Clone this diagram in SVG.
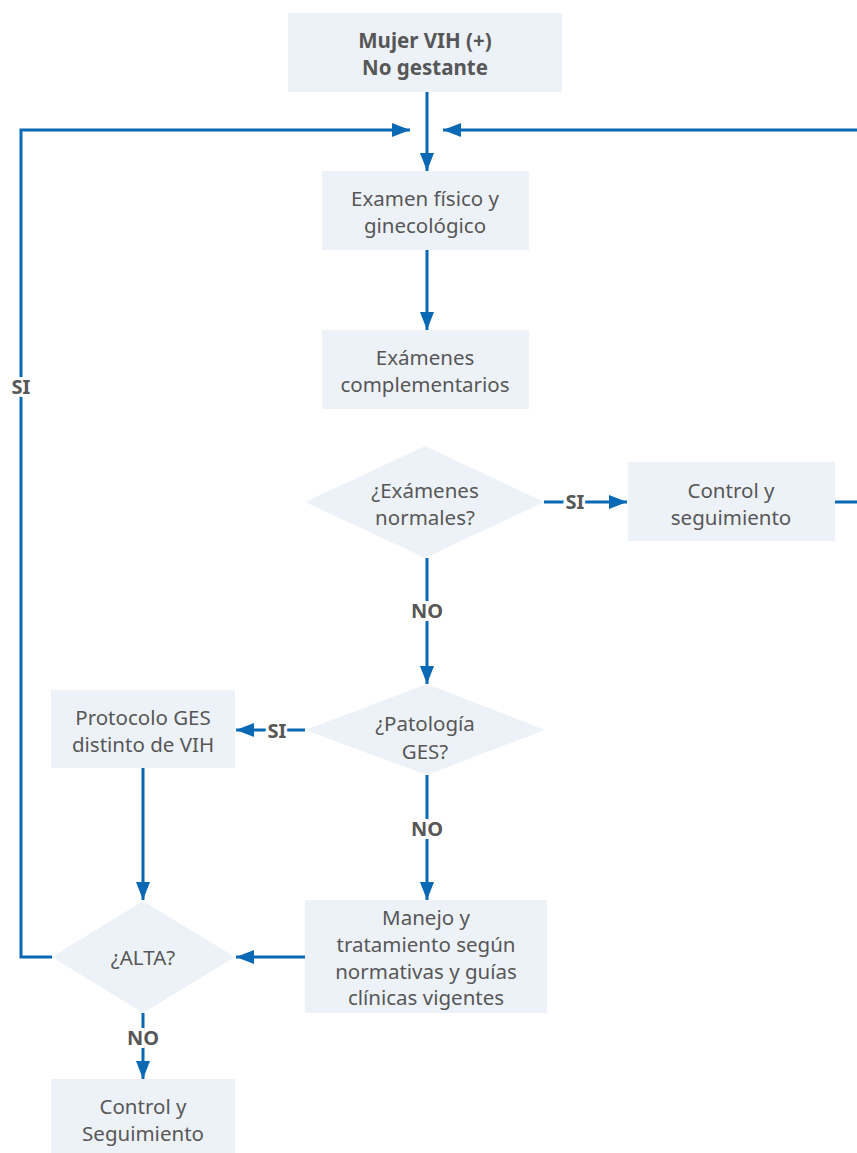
<svg xmlns="http://www.w3.org/2000/svg" width="857" height="1153" viewBox="0 0 857 1153">
<style>
.box{fill:#edf2f9}
.t{font-family:"Noto Sans","Open Sans",sans-serif;font-size:20.5px;fill:#575757;text-anchor:middle}
.b{font-weight:bold}
.c{fill:none;stroke:#0a69b4;stroke-width:3}
.lbl{font-family:"Noto Sans","Open Sans",sans-serif;font-size:20px;font-weight:bold;fill:#575757;text-anchor:middle;stroke:#fff;stroke-width:6;paint-order:stroke}
</style>
<defs>
<marker id="ah" markerUnits="userSpaceOnUse" markerWidth="20" markerHeight="14" refX="18" refY="7" orient="auto">
<path d="M0,0 L18,7 L0,14 Z" fill="#0a69b4"/>
</marker>
</defs>
<g id="connectors">
<path class="c" d="M427,92 V171" marker-end="url(#ah)"/>
<path class="c" d="M52,957 H21 V130 H410" marker-end="url(#ah)"/>
<path class="c" d="M835,502 H860 V130 H443" marker-end="url(#ah)"/>
<path class="c" d="M427,250 V330" marker-end="url(#ah)"/>
<path class="c" d="M544,502 H627" marker-end="url(#ah)"/>
<path class="c" d="M427,558 V684" marker-end="url(#ah)"/>
<path class="c" d="M305,730 H236" marker-end="url(#ah)"/>
<path class="c" d="M143,768 V900" marker-end="url(#ah)"/>
<path class="c" d="M427,775 V900" marker-end="url(#ah)"/>
<path class="c" d="M305,957 H236" marker-end="url(#ah)"/>
<path class="c" d="M143,1013 V1079" marker-end="url(#ah)"/>
<text class="lbl" x="21" y="394">SI</text>
<text class="lbl" x="575" y="509">SI</text>
<text class="lbl" x="427" y="618">NO</text>
<text class="lbl" x="277" y="738">SI</text>
<text class="lbl" x="427" y="836">NO</text>
<text class="lbl" x="143" y="1045">NO</text>
</g>
<g id="n1"><rect class="box" x="288" y="13" width="274" height="79"/><text class="t b" x="425" y="48">Mujer VIH (+)</text><text class="t b" x="425" y="75">No gestante</text></g>
<g id="n2"><rect class="box" x="322" y="171" width="207" height="79"/><text class="t" x="425" y="206">Examen físico y</text><text class="t" x="425" y="233">ginecológico</text></g>
<g id="n3"><rect class="box" x="322" y="330" width="207" height="79"/><text class="t" x="425" y="365">Exámenes</text><text class="t" x="425" y="392">complementarios</text></g>
<g id="n4"><polygon class="box" points="425,446 544,502 425,558 305,502"/><text class="t" x="425" y="498">¿Exámenes</text><text class="t" x="425" y="525">normales?</text></g>
<g id="n5"><rect class="box" x="628" y="462" width="207" height="79"/><text class="t" x="731" y="498">Control y</text><text class="t" x="731" y="525">seguimiento</text></g>
<g id="n6"><polygon class="box" points="427,684 545,730 427,775 305,730"/><text class="t" x="425" y="731">¿Patología</text><text class="t" x="425" y="759">GES?</text></g>
<g id="n7"><rect class="box" x="51" y="690" width="184" height="78"/><text class="t" x="143" y="725">Protocolo GES</text><text class="t" x="143" y="752">distinto de VIH</text></g>
<g id="n8"><rect class="box" x="305" y="900" width="242" height="113"/><text class="t" x="426" y="925">Manejo y</text><text class="t" x="426" y="952">tratamiento según</text><text class="t" x="426" y="979">normativas y guías</text><text class="t" x="426" y="1005">clínicas vigentes</text></g>
<g id="n9"><polygon class="box" points="143,901 235,957 143,1013 52,957"/><text class="t" x="143" y="965">¿ALTA?</text></g>
<g id="n10"><rect class="box" x="51" y="1079" width="184" height="74"/><text class="t" x="143" y="1114">Control y</text><text class="t" x="143" y="1141">Seguimiento</text></g>
</svg>
